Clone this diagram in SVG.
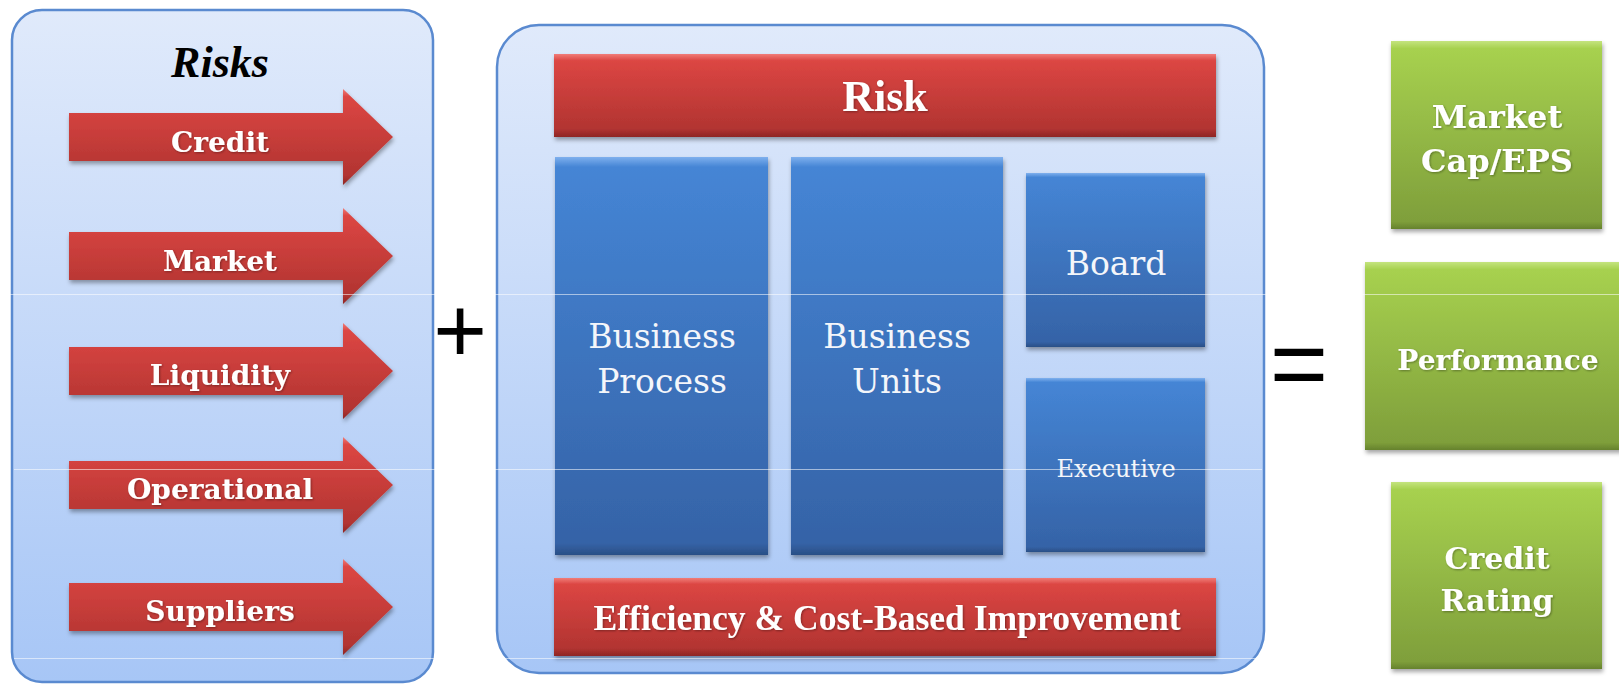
<svg xmlns="http://www.w3.org/2000/svg" width="1619" height="684" viewBox="0 0 1619 684">
<defs>
  <linearGradient id="gPanel" x1="0" y1="0" x2="0" y2="1">
    <stop offset="0" stop-color="#e0eafb"/>
    <stop offset="1" stop-color="#a7c6f6"/>
  </linearGradient>
  <linearGradient id="gRed" x1="0" y1="0" x2="0" y2="1">
    <stop offset="0" stop-color="#f07c78"/>
    <stop offset="0.08" stop-color="#dc4643"/>
    <stop offset="0.9" stop-color="#b23431"/>
    <stop offset="1" stop-color="#8e2624"/>
  </linearGradient>
  <linearGradient id="gBlue" x1="0" y1="0" x2="0" y2="1">
    <stop offset="0" stop-color="#7fb0ee"/>
    <stop offset="0.025" stop-color="#4585d5"/>
    <stop offset="0.97" stop-color="#3563a7"/>
    <stop offset="1" stop-color="#2a4f86"/>
  </linearGradient>
  <linearGradient id="gGreen" x1="0" y1="0" x2="0" y2="1">
    <stop offset="0" stop-color="#c4e47e"/>
    <stop offset="0.04" stop-color="#a7d14f"/>
    <stop offset="0.96" stop-color="#7f9f3b"/>
    <stop offset="1" stop-color="#66822d"/>
  </linearGradient>
  <filter id="sh" x="-10%" y="-10%" width="120%" height="130%">
    <feDropShadow dx="1" dy="3" stdDeviation="2" flood-color="#000" flood-opacity="0.35"/>
  </filter>
  <filter id="tsh" x="-5%" y="-20%" width="110%" height="140%">
    <feDropShadow dx="1" dy="1" stdDeviation="0.8" flood-color="#000" flood-opacity="0.35"/>
  </filter>
  <path id="arrowShape" d="M69,-24 H343 V-48 L393,0 L343,48 V24 H69 Z"/>
</defs>
<style>
  .panel { fill: url(#gPanel); stroke: #5a8ad0; stroke-width: 2.5; }
  .red { fill: url(#gRed); filter: url(#sh); }
  .blue { fill: url(#gBlue); filter: url(#sh); }
  .green { fill: url(#gGreen); filter: url(#sh); }
  .lbl { font-family: "DejaVu Serif", "Liberation Serif", serif; font-weight: bold; fill: #ffffff; text-anchor: middle; filter: url(#tsh); }
  .reg { font-family: "DejaVu Serif", "Liberation Serif", serif; fill: #f4f6fa; text-anchor: middle; }
  .hdr { font-family: "Liberation Serif", serif; font-weight: bold; fill: #ffffff; text-anchor: middle; filter: url(#tsh); }
  .op { font-family: "Liberation Sans", Arial, sans-serif; fill: #000; text-anchor: middle; }
  .scan { stroke: #ffffff; stroke-width: 1; opacity: 0.55; }
</style>

<g id="risks-panel">
  <rect class="panel" x="12" y="10" width="421" height="672" rx="30" ry="30"/>
  <text x="220" y="77" font-family="Liberation Serif, serif" font-weight="bold" font-style="italic" font-size="44" fill="#000" text-anchor="middle">Risks</text>
</g>

<g id="arrow-credit">
  <use href="#arrowShape" class="red" transform="translate(0,137)"/>
  <text class="lbl" x="220" y="152" font-size="28">Credit</text>
</g>
<g id="arrow-market">
  <use href="#arrowShape" class="red" transform="translate(0,256)"/>
  <text class="lbl" x="220" y="271" font-size="28">Market</text>
</g>
<g id="arrow-liquidity">
  <use href="#arrowShape" class="red" transform="translate(0,371)"/>
  <text class="lbl" x="220" y="385" font-size="28">Liquidity</text>
</g>
<g id="arrow-operational">
  <use href="#arrowShape" class="red" transform="translate(0,485)"/>
  <text class="lbl" x="220" y="499" font-size="28">Operational</text>
</g>
<g id="arrow-suppliers">
  <use href="#arrowShape" class="red" transform="translate(0,607)"/>
  <text class="lbl" x="220" y="621" font-size="28">Suppliers</text>
</g>

<g id="plus">
  <text class="op" x="460" y="362" font-size="92">+</text>
</g>

<g id="framework-panel">
  <rect class="panel" x="497" y="25" width="767" height="648" rx="42" ry="42"/>
</g>
<g id="risk-bar">
  <rect class="red" x="554" y="54" width="662" height="83"/>
  <text class="hdr" x="885" y="111" font-size="44">Risk</text>
</g>
<g id="business-process">
  <rect class="blue" x="555" y="157" width="213" height="398"/>
  <text class="reg" x="662" y="348" font-size="33">Business</text>
  <text class="reg" x="662" y="393" font-size="33">Process</text>
</g>
<g id="business-units">
  <rect class="blue" x="791" y="157" width="212" height="398"/>
  <text class="reg" x="897" y="348" font-size="33">Business</text>
  <text class="reg" x="897" y="393" font-size="33">Units</text>
</g>
<g id="board">
  <rect class="blue" x="1026" y="173" width="179" height="174"/>
  <text class="reg" x="1116" y="275" font-size="33">Board</text>
</g>
<g id="executive">
  <rect class="blue" x="1026" y="378" width="179" height="174"/>
  <text class="reg" x="1116" y="477" font-size="24">Executive</text>
</g>
<g id="efficiency-bar">
  <rect class="red" x="554" y="578" width="662" height="78"/>
  <text class="hdr" x="887" y="630" font-size="36" textLength="587" lengthAdjust="spacingAndGlyphs">Efficiency &amp; Cost-Based Improvement</text>
</g>

<g id="equals">
  <text class="op" x="1299" y="398" font-size="100">=</text>
</g>

<g id="market-cap">
  <rect class="green" x="1391" y="41" width="211" height="188"/>
  <text class="lbl" x="1497" y="128" font-size="32">Market</text>
  <text class="lbl" x="1497" y="172" font-size="32">Cap/EPS</text>
</g>
<g id="performance">
  <rect class="green" x="1365" y="262" width="260" height="188"/>
  <text class="lbl" x="1498" y="370" font-size="28">Performance</text>
</g>
<g id="credit-rating">
  <rect class="green" x="1391" y="482" width="211" height="187"/>
  <text class="lbl" x="1497" y="569" font-size="30">Credit</text>
  <text class="lbl" x="1497" y="611" font-size="30">Rating</text>
</g>

<g id="connectors"></g>

<g id="scanlines">
  <line class="scan" x1="0" y1="294.5" x2="1619" y2="294.5"/>
  <line class="scan" x1="14" y1="469.5" x2="1262" y2="469.5"/>
  <line class="scan" x1="14" y1="658.5" x2="1262" y2="658.5"/>
</g>
</svg>
